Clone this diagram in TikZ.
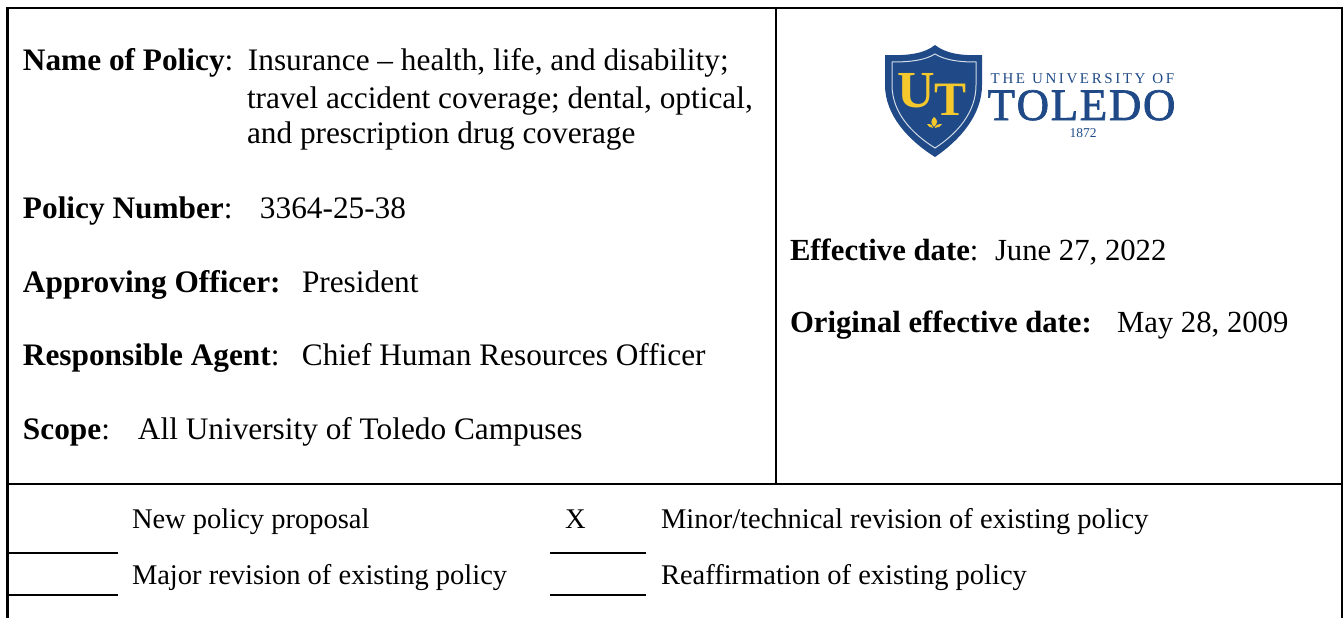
\documentclass[tikz,border=0pt]{standalone}
\usepackage{fontspec}
\setmainfont{Liberation Serif}
\newfontfamily\logofont[FakeBold=1.5]{Liberation Serif}
\definecolor{utblue}{HTML}{1F4A87}
\definecolor{utgold}{HTML}{F5C92E}
\newcommand{\lab}[2]{\makebox[#1pt][l]{#2}}
\tikzset{
  frameline/.style={line width=2.4pt,black},
  rowline/.style={line width=2pt,black},
  txt/.style={anchor=base west,inner sep=0pt,outer sep=0pt,font=\fontsize{31.3}{31.3}\selectfont,text=black},
  rtxt/.style={anchor=base west,inner sep=0pt,outer sep=0pt,font=\fontsize{30.7}{30.7}\selectfont,text=black},
  small/.style={anchor=base west,inner sep=0pt,outer sep=0pt,font=\fontsize{28.5}{28.5}\selectfont,text=black},
  logo/.style={anchor=base,inner sep=0pt,outer sep=0pt,text=utblue},
}
\begin{document}
\begin{tikzpicture}[x=1pt,y=-1pt]
\useasboundingbox (0,0) rectangle (1344,618);
\coordinate (tl) at (7.5,8);
\coordinate (tr) at (1342,8);
\coordinate (bl) at (7.5,618);
\coordinate (br) at (1342,618);
\coordinate (vt) at (776,8);
\coordinate (vb) at (776,484);
\coordinate (hl) at (7.5,484);
\coordinate (hr) at (1342,484);
\draw[frameline] (bl) -- (tl) -- (tr) -- (br);
\draw[frameline] (vt) -- (vb);
\draw[frameline] (hl) -- (hr);
\coordinate (a1) at (8,553); \coordinate (a2) at (118,553);
\coordinate (b1) at (8,595); \coordinate (b2) at (118,595);
\coordinate (c1) at (550,553); \coordinate (c2) at (646,553);
\coordinate (d1) at (550,595); \coordinate (d2) at (646,595);
\draw[rowline] (a1) -- (a2);
\draw[rowline] (b1) -- (b2);
\draw[rowline] (c1) -- (c2);
\draw[rowline] (d1) -- (d2);
\node[txt] (n1) at (23,70.5) {\lab{225}{\textbf{Name of Policy}:}Insurance -- health, life, and disability;};
\node[txt] (n2) at (247,108) {travel accident coverage; dental, optical,};
\node[txt] (n3) at (247,143.5) {and prescription drug coverage};
\node[txt] (n4) at (23,218) {\lab{237}{\textbf{Policy Number}:}3364-25-38};
\node[txt] (n5) at (23,292) {\lab{279}{\textbf{Approving Officer:}}President};
\node[txt] (n6) at (23,365) {\lab{279}{\textbf{Responsible Agent}:}Chief Human Resources Officer};
\node[txt] (n7) at (23,439) {\lab{115}{\textbf{Scope}:}All University of Toledo Campuses};
\node[rtxt] (n8) at (790,260) {\lab{205}{\textbf{Effective date}:}June 27, 2022};
\node[rtxt] (n9) at (790,332) {\lab{327}{\textbf{Original effective date:}}May 28, 2009};
\node[small] (r1) at (132,528) {New policy proposal};
\node[small] (r2) at (565,528) {X};
\node[small] (r3) at (661,528) {Minor/technical revision of existing policy};
\node[small] (r4) at (132,584) {Major revision of existing policy};
\node[small] (r5) at (661,584) {Reaffirmation of existing policy};
% shield
\fill[utblue] (885,55) .. controls (910,56) and (925,53) .. (935,45) .. controls (945,53) and (960,56) .. (982,55) -- (982,85) .. controls (982,115) and (960,140) .. (935,157) .. controls (908,140) and (885,115) .. (885,85) -- cycle;
\draw[white!80!utblue,line width=1pt] (892,62) .. controls (912,62) and (925,60) .. (935,54) .. controls (945,60) and (958,62) .. (976,62) -- (976,85) .. controls (976,112) and (958,133) .. (935,148) .. controls (911,133) and (892,112) .. (892,85) -- cycle;
\node[logo,text=utgold,font=\fontsize{52}{52}\selectfont\bfseries] (lu) at (916,107) {U};
\node[logo,text=utgold,font=\fontsize{48}{48}\selectfont\bfseries] (lt) at (950,115) {T};
\fill[utgold] (934,127) .. controls (930,123) and (931,120) .. (934,117) .. controls (938,120) and (938,123) .. (934,127) -- cycle;
\fill[utgold] (933,128) .. controls (930,128) and (928,126) .. (927,124) .. controls (931,124) and (933,125) .. (933,128) -- cycle;
\fill[utgold] (935,128) .. controls (938,128) and (941,126) .. (942,124) .. controls (938,124) and (935,125) .. (935,128) -- cycle;
\node[logo,font=\fontsize{15}{15}\selectfont] (l1) at (1082.5,83) {T\kern2.6pt H\kern2.6pt E\kern7pt U\kern2.6pt N\kern2.6pt I\kern2.6pt V\kern2.6pt E\kern2.6pt R\kern2.6pt S\kern2.6pt I\kern2.6pt T\kern2.6pt Y\kern7pt O\kern2.6pt F};
\node[logo,font=\fontsize{45}{45}\logofont] (l2) at (1081.5,120) {T\kern1.6pt O\kern1.6pt L\kern1.6pt E\kern1.6pt D\kern1.6pt O};
\node[logo,font=\fontsize{13.5}{13.5}\selectfont] (l3) at (1083,137) {1872};
\end{tikzpicture}
\end{document}
